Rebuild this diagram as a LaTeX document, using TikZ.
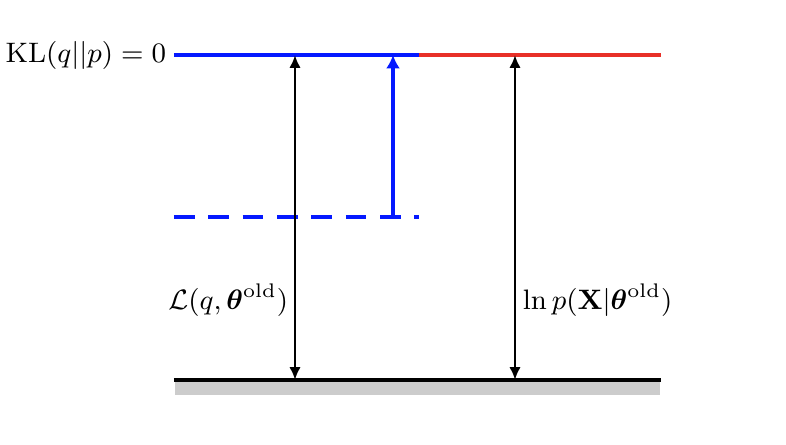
\RequirePackage{fix-cm}
\documentclass[tikz,border=0pt]{standalone}
\usepackage{amsmath}
\usepackage{amssymb}
\usetikzlibrary{arrows.meta, positioning}

\definecolor{klblue}{RGB}{5,25,255}
\definecolor{klred}{RGB}{232,48,40}

\begin{document}
\begin{tikzpicture}[
    x=0.012cm, y=-0.012cm,
    level/.style={line width=1.35pt},
    bound/.style={level, klblue},
    gap/.style={level, klred},
    ground/.style={line width=1.15pt, black},
    floor/.style={fill=black!20, draw=none},
    span/.style={{Latex[length=4.4pt, width=3.9pt]}-{Latex[length=4.4pt, width=3.9pt]},
                 line width=1pt, black},
    lift/.style={-{Latex[length=4.6pt, width=4.8pt]}, level, klblue},
    lbl/.style={inner sep=2.5pt, font=\fontsize{9.6pt}{11pt}\selectfont},
]
  \useasboundingbox (0,0) rectangle (786,445);

  % levels
  \coordinate (topleft)  at (174,55);
  \coordinate (topsplit) at (419,55);
  \coordinate (topright) at (661,55);
  \coordinate (oldleft)  at (174,217);
  \coordinate (oldright) at (419,217);
  \coordinate (baseleft) at (174,380);
  \coordinate (baseright) at (661,380);

  \fill[floor] (175,381) rectangle (660,395);

  \draw[bound] (topleft) -- (topsplit);
  \draw[gap] (topsplit) -- (topright);
  \draw[bound, dash pattern=on 0.246cm off 0.166cm] (oldleft) -- (oldright);
  \draw[ground] (baseleft) -- (baseright);

  % arrows
  \coordinate (lbtop) at (295,55);
  \coordinate (lbbot) at (295,380);
  \coordinate (evtop) at (515,55);
  \coordinate (evbot) at (515,380);
  \coordinate (mfrom) at (393,217);
  \coordinate (mto)   at (393,55);

  \draw[span] (lbbot) -- (lbtop);
  \draw[span] (evbot) -- (evtop);
  \draw[lift] (mfrom) -- (mto);

  % labels
  \node[lbl, anchor=east] (kl) at (topleft) {$\mathrm{KL}(q||p) = 0$};
  \node[lbl, anchor=east] (lb) at (296,300) {$\mathcal{L}(q,\boldsymbol{\theta}^{\mathrm{old}})$};
  \node[lbl, anchor=west] (ev) at (515,300) {$\ln p(\mathbf{X}|\boldsymbol{\theta}^{\mathrm{old}})$};
\end{tikzpicture}
\end{document}
